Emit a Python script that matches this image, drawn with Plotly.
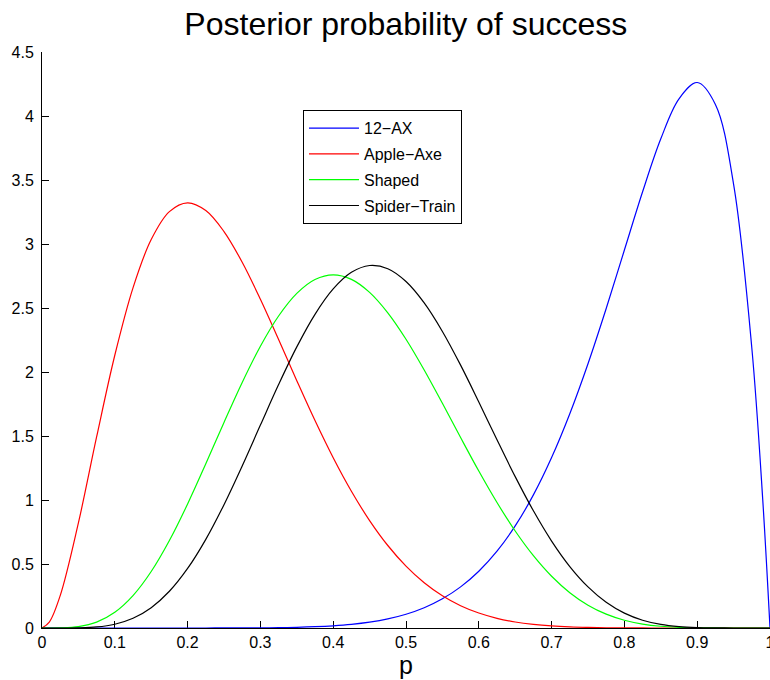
import plotly.graph_objects as go

# Sample positions along p
p_values = [0, 0.01, 0.025, 0.05, 0.075, 0.1, 0.125, 0.15, 0.175, 0.2, 0.225, 0.25,
            0.275, 0.3, 0.325, 0.35, 0.375, 0.4, 0.425, 0.45, 0.475, 0.5, 0.525, 0.55,
            0.575, 0.6, 0.625, 0.65, 0.675, 0.7, 0.725, 0.75, 0.775, 0.8, 0.825, 0.85,
            0.875, 0.9, 0.925, 0.95, 0.975, 0.99, 1.0]

ax12 = [0, 0, 0, 0, 0, 0, 0, 0, 0.00001, 0.00005, 0.00013, 0.0003, 0.0007, 0.0015,
        0.0030, 0.0056, 0.0101, 0.0173, 0.0286, 0.0458, 0.0711, 0.1074, 0.1583, 0.2280,
        0.3212, 0.4434, 0.6003, 0.7974, 1.0399, 1.3317, 1.6741, 2.0648, 2.4963, 2.9528,
        3.4081, 3.8217, 4.1341, 4.2616, 4.0901, 3.4664, 2.1897, 1.0049, 0]

apple_axe = [0, 0.0457, 0.2527, 0.8210, 1.4923, 2.1308, 2.6576, 3.0349, 3.2532, 3.3219,
             3.2613, 3.0972, 2.8575, 2.5682, 2.2532, 1.9322, 1.6207, 1.3302, 1.0684,
             0.8393, 0.6445, 0.4834, 0.3536, 0.2518, 0.1742, 0.1168, 0.0756, 0.0471,
             0.0281, 0.0159, 0.0085, 0.0043, 0.0020, 0.0008, 0.0003, 0.0001, 0, 0, 0, 0,
             0, 0, 0]

shaped = [0, 0.00002, 0.0008, 0.0106, 0.0458, 0.1228, 0.2531, 0.4411, 0.6831, 0.9689,
          1.2828, 1.6060, 1.9185, 2.2013, 2.4377, 2.6144, 2.7228, 2.7591, 2.7238, 2.6221,
          2.4623, 2.2559, 2.0157, 1.7552, 1.4880, 1.2262, 0.9802, 0.7580, 0.5651, 0.4043,
          0.2760, 0.1784, 0.1081, 0.0606, 0.0307, 0.0137, 0.0052, 0.0015, 0.0003, 0.00003,
          0, 0, 0]

spider_train = [0, 0, 0.00005, 0.0013, 0.0082, 0.0295, 0.0759, 0.1588, 0.2869, 0.4651,
                0.6927, 0.9636, 1.2663, 1.5850, 1.9014, 2.1961, 2.4506, 2.6487, 2.7784,
                2.8319, 2.8071, 2.7070, 2.5398, 2.3169, 2.0535, 1.7658, 1.4703, 1.1825,
                0.9155, 0.6793, 0.4803, 0.3212, 0.2011, 0.1163, 0.0609, 0.0280, 0.0109,
                0.0033, 0.0007, 0.00007, 0, 0, 0]

series_names = ["12\u2212AX", "Apple\u2212Axe", "Shaped", "Spider\u2212Train"]
series_colors = ["#0000FF", "#FF0000", "#00FF00", "#000000"]

x_tickvals = [0, 0.1, 0.2, 0.3, 0.4, 0.5, 0.6, 0.7, 0.8, 0.9, 1.0]
x_ticktext = ["0", "0.1", "0.2", "0.3", "0.4", "0.5", "0.6", "0.7", "0.8", "0.9", "1"]
y_tickvals = [0, 0.5, 1, 1.5, 2, 2.5, 3, 3.5, 4, 4.5]
y_ticktext = ["0", "0.5", "1", "1.5", "2", "2.5", "3", "3.5", "4", "4.5"]

FONT = "Liberation Sans, Arial, Helvetica, sans-serif"

fig = go.Figure()
for i, (name, ys, col) in enumerate(zip(series_names, [ax12, apple_axe, shaped, spider_train], series_colors)):
    fig.add_trace(go.Scatter(x=p_values, y=ys, mode="lines", name=name,
                             legendgroup="g%d" % i,
                             line=dict(color=col, width=1.2, shape="spline", smoothing=1.0)))

axis_common = dict(showline=True, linecolor="black", linewidth=1, ticks="inside",
                   ticklen=7, tickcolor="black", tickwidth=1, showgrid=False,
                   zeroline=False, layer="below traces", ticklabeloverflow="allow",
                   tickfont=dict(family=FONT, size=16, color="black"))

fig.update_layout(
    width=770, height=680,
    margin=dict(l=42, r=0, t=52, b=52),
    paper_bgcolor="white", plot_bgcolor="white",
    font=dict(family=FONT, color="black"),
    title=dict(text="Posterior probability of success", x=0.527, xanchor="center",
               y=0.965, yanchor="middle", yref="container",
               font=dict(family=FONT, size=32, color="black")),
    xaxis=dict(range=[0, 1], tickvals=x_tickvals, ticktext=x_ticktext,
               title=dict(text="p", font=dict(family=FONT, size=25, color="black"), standoff=2),
               automargin=False, **axis_common),
    yaxis=dict(range=[0, 4.5], tickvals=y_tickvals, ticktext=y_ticktext,
               automargin=False, ticklabelstandoff=4, **axis_common),
    legend=dict(x=0.3585, y=0.899, xanchor="left", yanchor="top",
                bgcolor="white", bordercolor="black", borderwidth=1,
                font=dict(family=FONT, size=16, color="black"),
                itemwidth=50, tracegroupgap=2),
    showlegend=True,
)

# remove the default page margin so the 770x680 figure fills the window exactly
fig.write_html("out.html", config={"displayModeBar": False},
               post_script="document.body.style.margin='0';document.body.style.overflow='hidden';")
